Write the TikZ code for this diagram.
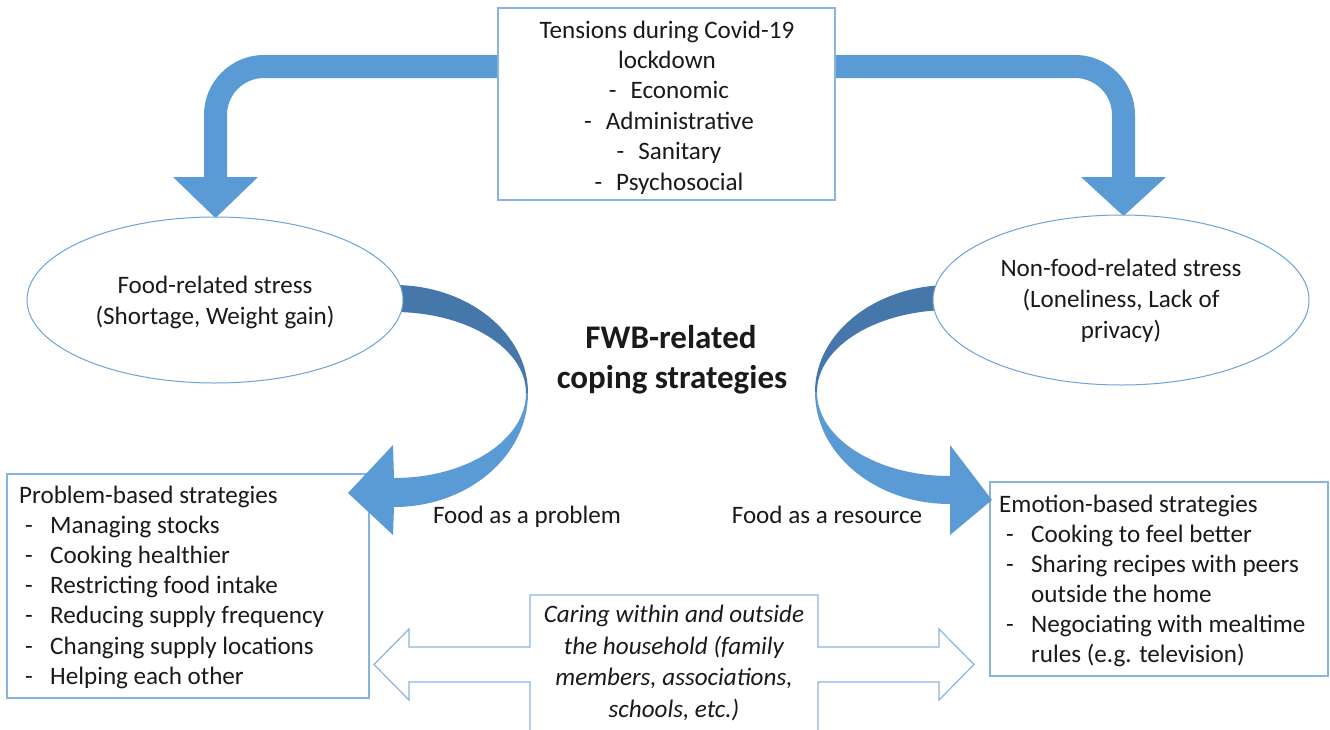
\documentclass[tikz,border=0pt]{standalone}
\usepackage{fontspec}
\setmainfont{Carlito}
\usetikzlibrary{shapes.geometric}
\definecolor{ink}{HTML}{1A1A1A}
\definecolor{fillblue}{HTML}{5B9BD5}
\definecolor{shadeblue}{HTML}{4677AA}
\definecolor{lineblue}{HTML}{8AB4E0}
\definecolor{ellblue}{HTML}{6CA3D8}
\begin{document}
\begin{tikzpicture}[x=1pt,y=1pt,
  ln/.style={inner sep=0pt, anchor=base, text=ink, font=\fontsize{25.1}{30}\selectfont},
  lnw/.style={ln, anchor=base west},
  title/.style={inner sep=0pt, anchor=base, text=ink, font=\fontsize{33}{40}\selectfont\bfseries},
  boxnode/.style={draw=lineblue, line width=1.2pt, fill=white, inner sep=0pt, outer sep=0pt},
  ellnode/.style={ellipse, draw=ellblue, line width=1pt, fill=white, inner sep=0pt, outer sep=0pt},
  fatarrow/.style={fill=fillblue},
  backband/.style={fill=shadeblue},
  hollowarrow/.style={draw=lineblue, line width=1.2pt, line join=miter}]

\useasboundingbox (0,0) rectangle (1330,-729);
\fill[white] (0,0) rectangle (1330,-729);

% strategy boxes (drawn first, the curved arrows overlap their corners)
\node[boxnode, minimum width=362pt, minimum height=224pt] (problem) at (188,-586) {};
\node[boxnode, minimum width=338pt, minimum height=194pt] (emotion) at (1159,-579) {};

% bent arrows leaving the tensions box
\fill[fatarrow] (520,-55) -- (264,-55) arc[start angle=90, end angle=180, radius=60]
  -- (204,-177) -- (173,-177) -- (215.5,-218) -- (258,-177) -- (227,-177)
  -- (227,-115) arc[start angle=180, end angle=90, radius=37] -- (520,-78) -- cycle;
\fill[fatarrow] (810,-55) -- (1075,-55) arc[start angle=90, end angle=0, radius=60]
  -- (1135,-177) -- (1166,-177) -- (1123.5,-216) -- (1081,-177) -- (1112,-177)
  -- (1112,-115) arc[start angle=0, end angle=90, radius=37] -- (810,-78) -- cycle;

% tensions box
\node[boxnode, minimum width=337pt, minimum height=192pt] (tension) at (666.5,-104) {};
\node[ln] (tA) at (667,-38) {Tensions during Covid-19};
\node[ln] (tB) at (667,-68) {lockdown};
\node[ln] (tC) at (669,-98.5) {-\hspace{14pt}Economic};
\node[ln] (tD) at (669,-129) {-\hspace{14pt}Administrative};
\node[ln] (tE) at (669,-159.5) {-\hspace{14pt}Sanitary};
\node[ln] (tF) at (669,-190) {-\hspace{14pt}Psychosocial};

% curved arrow: food-related stress -> problem-based strategies
\fill[backband] (394,-285) arc[start angle=90, end angle=0, x radius=134, y radius=108]
  -- (526,-393) arc[start angle=0, end angle=90, x radius=132, y radius=81] -- cycle;
\fill[fatarrow] (528,-393) arc[start angle=0, end angle=-90, x radius=134, y radius=114]
  -- (393,-535) -- (348,-493) -- (393,-445) -- (394,-478)
  arc[start angle=-90, end angle=0, x radius=132, y radius=85] -- cycle;

% curved arrow: non-food-related stress -> emotion-based strategies
\fill[backband] (950,-285) arc[start angle=90, end angle=180, x radius=135, y radius=107]
  -- (817,-392) arc[start angle=180, end angle=90, x radius=133, y radius=82] -- cycle;
\fill[fatarrow] (815,-392) arc[start angle=180, end angle=270, x radius=135, y radius=112]
  -- (950,-535) -- (992,-500) -- (950,-445) -- (950,-476)
  arc[start angle=270, end angle=180, x radius=133, y radius=84] -- cycle;

% stress ellipses
\node[ellnode, minimum width=376pt, minimum height=166pt] (food) at (215,-300) {};
\node[ellnode, minimum width=376pt, minimum height=170pt] (nonfood) at (1121,-300) {};
\node[ln] (fA) at (215,-293) {Food-related stress};
\node[ln] (fB) at (215,-324) {(Shortage, Weight gain)};
\node[ln] (nA) at (1121,-276) {Non-food-related stress};
\node[ln] (nB) at (1121,-307) {(Loneliness, Lack of};
\node[ln] (nC) at (1121,-338) {privacy)};

% central title and arrow labels
\node[title] (ttlA) at (671,-348) {FWB-related};
\node[title] (ttlB) at (672,-388) {coping strategies};
\node[ln] (lblP) at (527,-523) {Food as a problem};
\node[ln] (lblR) at (827,-523) {Food as a resource};

% problem-based strategies
\node[lnw] (pH) at (19,-503) {Problem-based strategies};
\foreach \txt [count=\i] in {Managing stocks, Cooking healthier, Restricting food intake,
    Reducing supply frequency, Changing supply locations, Helping each other}{
  \node[lnw] (pd\i) at (25,{-503-30.2*\i}) {-};
  \node[lnw] (pi\i) at (50,{-503-30.2*\i}) {\txt};
}

% emotion-based strategies
\node[lnw] (eH) at (999,-512.7) {Emotion-based strategies};
\node[lnw] (ed1) at (1006,-542.7) {-};
\node[lnw] (ei1) at (1031,-542.7) {Cooking to feel better};
\node[lnw] (ed2) at (1006,-572.7) {-};
\node[lnw] (ei2) at (1031,-572.7) {Sharing recipes with peers};
\node[lnw] (ei2b) at (1031,-602.7) {outside the home};
\node[lnw] (ed3) at (1006,-632.7) {-};
\node[lnw] (ei3) at (1031,-632.7) {Negociating with mealtime};
\node[lnw] (ei3b) at (1031,-662.7) {rules (e.g. television)};

% caring: two-headed hollow arrow with a central panel
\coordinate (panelBL) at (530,-735);
\coordinate (panelBR) at (818,-735);
\draw[hollowarrow] (panelBL) -- (530,-682) -- (409,-682) -- (409,-700) -- (374,-664.5)
  -- (409,-629) -- (409,-647) -- (530,-647) -- (530,-595) -- (818,-595) -- (818,-647)
  -- (939,-647) -- (939,-629) -- (974,-664.5) -- (939,-700) -- (939,-682) -- (818,-682)
  -- (panelBR);
\foreach \txt/\yy [count=\i] in {Caring within and outside/622.5, the household (family/654,
    {members, associations,}/685.5, {schools, etc.)}/717}{
  \node[ln, font=\fontsize{25.1}{30}\selectfont\itshape] (c\i) at (674,-\yy) {\txt};
}
\end{tikzpicture}
\end{document}
